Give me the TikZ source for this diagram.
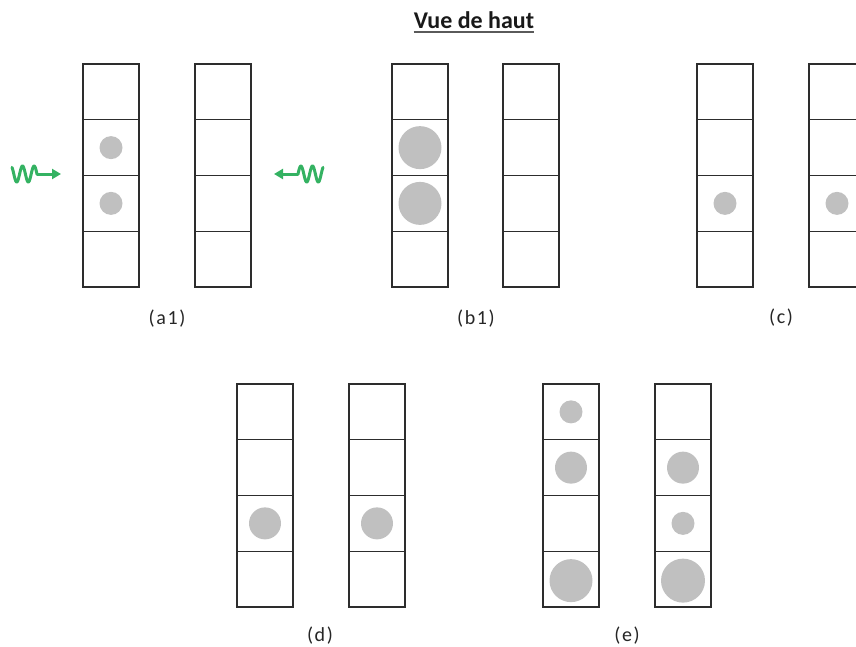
\documentclass[tikz,border=0pt]{standalone}
\usepackage{fontspec}
\setmainfont{Carlito}
\usetikzlibrary{arrows.meta}
\definecolor{linec}{RGB}{45,45,45}
\definecolor{dotc}{RGB}{192,192,192}
\definecolor{wavec}{RGB}{52,178,98}
\definecolor{ulc}{RGB}{90,90,90}
\newcommand\lsp{\kern1.6pt}
\tikzset{
  cell/.style={draw=linec, line width=1.3pt, minimum width=56pt, minimum height=55.75pt, inner sep=0pt, outer sep=0pt},
  dot/.style={circle, fill=dotc, draw=none, inner sep=0pt, minimum size=#1},
  lab/.style={inner sep=0pt, font=\fontsize{20}{24}\selectfont, text=black!85},
  wave/.style={draw=wavec, line width=3pt, line cap=round, line join=round},
  tip/.style={-{Triangle[length=9pt,width=10pt]}}
}
\newcommand\mkcol[3]{%
  \foreach \i in {1,...,4} {\node[cell] (#1\i) at (#2, {#3+55.75*\i-27.875}) {};}%
}
\begin{document}
\begin{tikzpicture}[x=1pt,y=-1pt]
\useasboundingbox (0,0) rectangle (856,646);
\begin{scope}
\clip (0,0) rectangle (856,646);
% title
\node[inner sep=0pt, anchor=base, font=\fontsize{24}{28}\selectfont\bfseries, text=black!90] (title) at (474,28) {Vue de haut};
\draw[ulc, line width=1.6pt] ([yshift=-3.7pt]title.base west) -- ([yshift=-3.7pt]title.base east);
% row 1 columns
\mkcol{aL}{111}{64}
\mkcol{aR}{223}{64}
\mkcol{bL}{420}{64}
\mkcol{bR}{531}{64}
\mkcol{cL}{725}{64}
\mkcol{cR}{837}{64}
% row 2 columns
\mkcol{dL}{265}{384}
\mkcol{dR}{377}{384}
\mkcol{eL}{571}{384}
\mkcol{eR}{683}{384}
% particles
\node[dot=23pt] (pa1) at (aL2) {};
\node[dot=23pt] (pa2) at (aL3) {};
\node[dot=43pt] (pb1) at (bL2) {};
\node[dot=43pt] (pb2) at (bL3) {};
\node[dot=23pt] (pc1) at (cL3) {};
\node[dot=23pt] (pc2) at (cR3) {};
\node[dot=32pt] (pd1) at (dL3) {};
\node[dot=32pt] (pd2) at (dR3) {};
\node[dot=23pt] (pe1) at (eL1) {};
\node[dot=32pt] (pe2) at (eL2) {};
\node[dot=43pt] (pe3) at ([yshift=-1.5pt]eL4.center) {};
\node[dot=32pt] (pe4) at (eR2) {};
\node[dot=23pt] (pe5) at (eR3) {};
\node[dot=44pt] (pe6) at ([yshift=-1.5pt]eR4.center) {};
% labels
\node[lab] (la) at (167,319) {(\lsp a\lsp 1\lsp)};
\node[lab] (lb) at (476,319) {(\lsp b\lsp 1\lsp)};
\node[lab] (lc) at (781,318) {(\lsp c\lsp)};
\node[lab] (ld) at (320,636) {(\lsp d\lsp)};
\node[lab] (le) at (627,636) {(\lsp e\lsp)};
% wavy arrows
\coordinate (wlend) at (37,174);
\coordinate (wltip) at (61,174);
\coordinate (wrend) at (298,174);
\coordinate (wrtip) at (274,174);
\draw[wave] plot[domain=0:25, samples=80, smooth] ({12+\x},{174-8*cos(360*(\x-10.5)/11.6)});
\draw[wave, tip] (wlend) -- (wltip);
\draw[wave] plot[domain=0:25, samples=80, smooth] ({323-\x},{174-8*cos(360*(\x-10.5)/11.6)});
\draw[wave, tip] (wrend) -- (wrtip);
\end{scope}
\end{tikzpicture}
\end{document}
